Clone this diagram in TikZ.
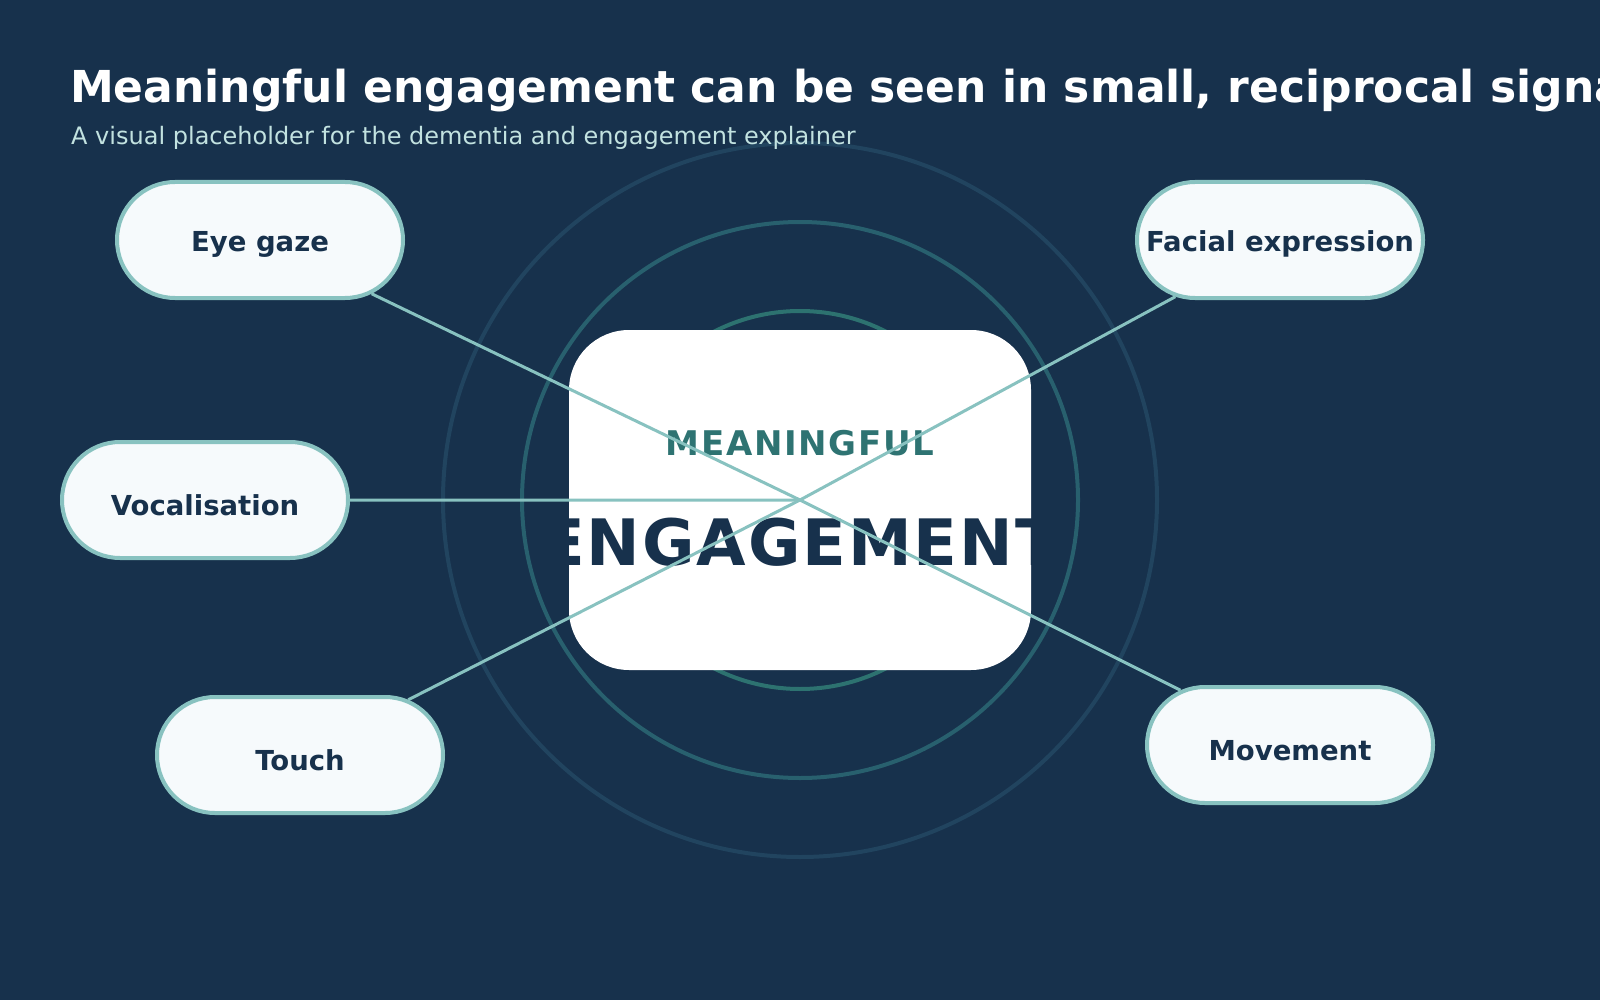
\documentclass[tikz,border=0pt]{standalone}
\usepackage{fontspec}
\setmainfont{DejaVu Sans}
\usetikzlibrary{shapes.misc}
\definecolor{bgc}{HTML}{17314C}
\definecolor{subc}{HTML}{C2E2E0}
\definecolor{ringa}{HTML}{21445F}
\definecolor{ringb}{HTML}{28606E}
\definecolor{ringc}{HTML}{2D7270}
\definecolor{meanc}{HTML}{2E7372}
\definecolor{navy}{HTML}{17314C}
\definecolor{pillfill}{HTML}{F6FAFC}
\definecolor{pillline}{HTML}{88C2C0}
\definecolor{linkc}{HTML}{88C2C0}
\tikzset{
  ring/.style={line width=4pt},
  pill/.style={rounded rectangle, draw=pillline, line width=4pt, fill=pillfill,
    minimum width=286pt, minimum height=116pt, inner sep=0pt, text=navy,
    font=\bfseries\fontsize{27.5}{33}\selectfont, text depth=0pt},
  link/.style={draw=linkc, line width=3pt},
  bigtext/.style={anchor=base, inner sep=0pt}
}
\begin{document}
\begin{tikzpicture}[x=1pt,y=-1pt]
\useasboundingbox (0,0) rectangle (1600,1000);
\fill[bgc] (0,0) rectangle (1600,1000);
\clip (0,0) rectangle (1600,1000);
% rings
\coordinate (hub) at (800,500);
\draw[ring, ringa] (hub) circle[radius=357pt];
\draw[ring, ringb] (hub) circle[radius=278pt];
\draw[ring, ringc] (hub) circle[radius=189pt];
% title
\node[anchor=base west, inner sep=0pt, text=white, font=\bfseries\fontsize{44}{52}\selectfont] (title) at (70,103) {Meaningful engagement can be seen in small, reciprocal signals};
\node[anchor=base west, inner sep=0pt, text=subc, font=\fontsize{24}{28}\selectfont] (subtitle) at (71,145) {A visual placeholder for the dementia and engagement explainer};
% core
\node[fill=white, rounded corners=60pt, minimum width=462pt, minimum height=340pt, inner sep=0pt] (core) at (hub) {};
\node[bigtext, text=meanc, font=\bfseries\fontsize{34}{40}\selectfont\addfontfeature{LetterSpace=5}] (mean) at (800,455) {MEANINGFUL};
\begin{scope}
\clip[rounded corners=60pt] (core.south west) rectangle (core.north east);
\node[bigtext, text=navy, font=\bfseries\fontsize{64}{76}\selectfont\addfontfeature{LetterSpace=3}] (eng) at (800,565) {ENGAGEMENT};
\end{scope}
% pills
\node[pill, text height=24pt] (eye) at (260,240) {Eye gaze};
\node[pill, text height=24pt] (face) at (1280,240) {Facial expression};
\node[pill, text height=30pt] (voc) at (205,500) {Vocalisation};
\node[pill, text height=30pt] (touch) at (300,755) {Touch};
\node[pill, text height=31pt] (move) at (1290,745) {Movement};
% links
\draw[link] (eye) -- (hub);
\draw[link] (face) -- (hub);
\draw[link] (voc) -- (hub);
\draw[link] (touch) -- (hub);
\draw[link] (move) -- (hub);
\end{tikzpicture}
\end{document}
